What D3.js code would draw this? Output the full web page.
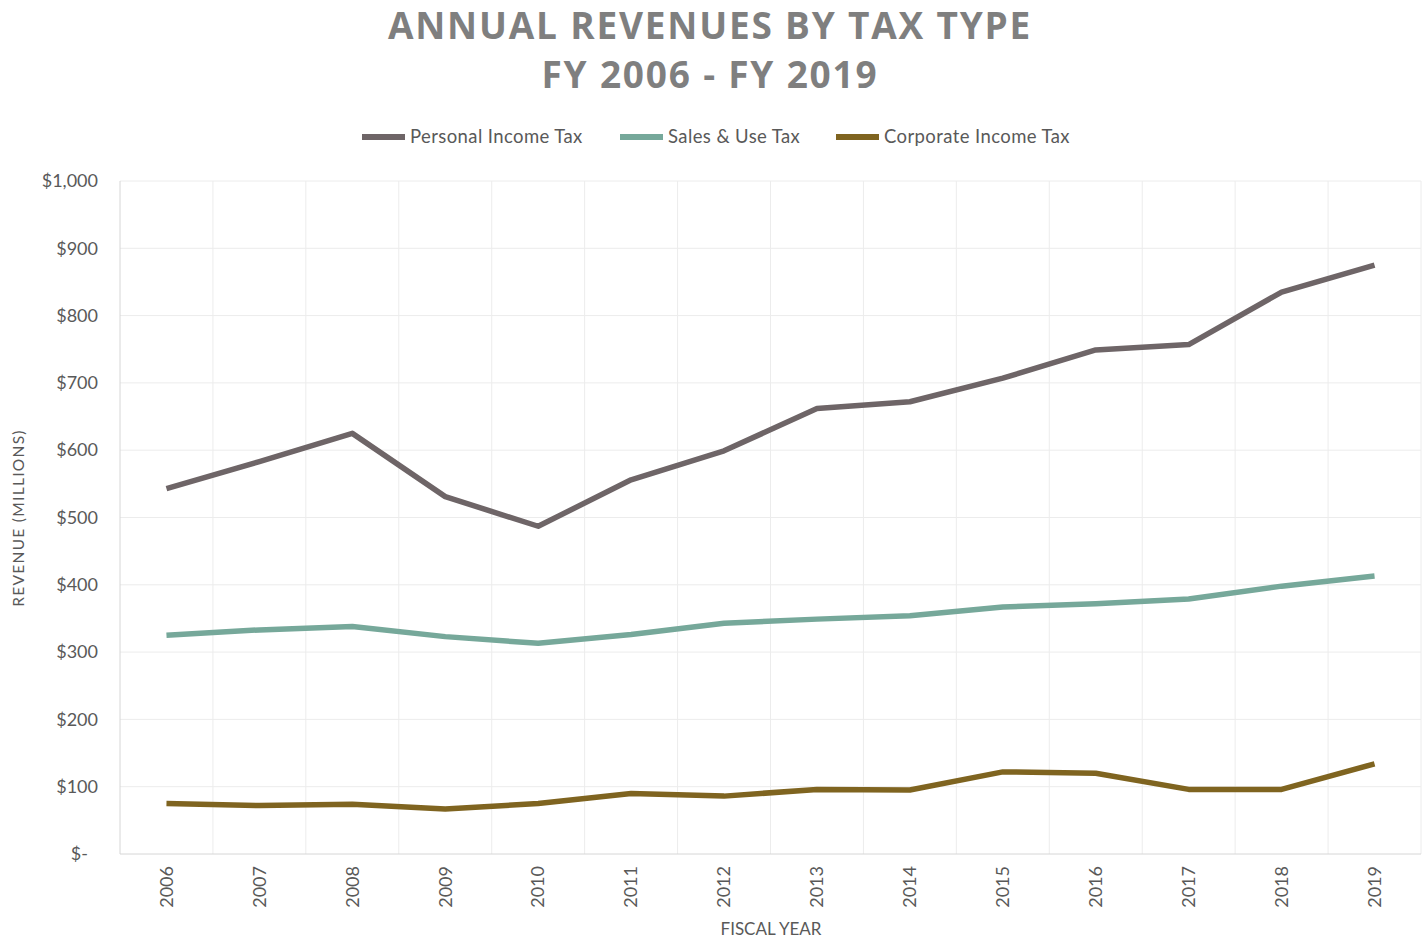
<!DOCTYPE html>
<html>
<head>
<meta charset="utf-8">
<script src="https://cdn.jsdelivr.net/npm/d3@7"></script>
<style>
  html, body { margin: 0; padding: 0; background: #ffffff; }
  svg { display: block; }
</style>
</head>
<body>
<svg id="chart" width="1427" height="938"></svg>
<script>
// Fiscal years on the category axis
const years = ["2006","2007","2008","2009","2010","2011","2012","2013","2014","2015","2016","2017","2018","2019"];

// Annual revenues, $ millions
const personalIncomeTax = [543, 583, 625, 531, 487, 556, 599, 662, 672, 707, 749, 757, 835, 875];
const salesUseTax       = [325, 333, 338, 323, 313, 326, 343, 349, 354, 367, 372, 379, 398, 413];
const corporateIncomeTax = [75, 72, 74, 67, 75, 90, 86, 96, 95, 122, 120, 96, 96, 134];

const seriesNames = ["Personal Income Tax", "Sales & Use Tax", "Corporate Income Tax"];
const seriesColors = ["#6e6567", "#76a89a", "#7f6420"];
const yTicks = [0, 100, 200, 300, 400, 500, 600, 700, 800, 900, 1000];

const series = [personalIncomeTax, salesUseTax, corporateIncomeTax].map((vals, i) => ({
  name: seriesNames[i],
  color: seriesColors[i],
  values: vals.map((v, j) => ({ year: years[j], value: v }))
}));

const svg = d3.select("#chart");
const font = "Lato, 'Open Sans', sans-serif";
const textColor = "#595959";

const plot = { left: 120, right: 1421, top: 181, bottom: 854 };

const x = d3.scaleBand().domain(years).range([plot.left, plot.right]).padding(0);
const y = d3.scaleLinear().domain([0, 1000]).range([plot.bottom, plot.top]);

// Title
const title = svg.append("g")
  .attr("font-family", "'Open Sans', sans-serif")
  .attr("font-weight", 700)
  .attr("font-size", 37)
  .attr("fill", "#7f7f7f")
  .attr("text-anchor", "middle")
  .attr("letter-spacing", 1.8);
title.append("text").attr("x", 710).attr("y", 39).text("ANNUAL REVENUES BY TAX TYPE");
title.append("text").attr("x", 710).attr("y", 88).text("FY 2006 - FY 2019");

// Horizontal gridlines
svg.append("g")
  .selectAll("line")
  .data(yTicks.filter(t => t > 0))
  .join("line")
  .attr("x1", plot.left).attr("x2", plot.right)
  .attr("y1", d => y(d)).attr("y2", d => y(d))
  .attr("stroke", "#ececec").attr("stroke-width", 1);

// Vertical gridlines at category boundaries
const bounds = years.map(yr => x(yr)).slice(1).concat([plot.right]);
svg.append("g")
  .selectAll("line")
  .data(bounds)
  .join("line")
  .attr("x1", d => d).attr("x2", d => d)
  .attr("y1", plot.top).attr("y2", plot.bottom)
  .attr("stroke", "#ececec").attr("stroke-width", 1);

// Axis lines
svg.append("line")
  .attr("x1", plot.left).attr("x2", plot.left)
  .attr("y1", plot.top).attr("y2", plot.bottom)
  .attr("stroke", "#d6d6d6");
svg.append("line")
  .attr("x1", plot.left).attr("x2", plot.right)
  .attr("y1", plot.bottom).attr("y2", plot.bottom)
  .attr("stroke", "#d6d6d6");

// Y axis
const yAxis = d3.axisLeft(y)
  .tickValues(yTicks)
  .tickSize(0)
  .tickPadding(22)
  .tickFormat(d => d === 0 ? "$-" : "$" + d3.format(",")(d));
const gy = svg.append("g").attr("transform", `translate(${plot.left},0)`).call(yAxis);
gy.select(".domain").remove();
gy.selectAll("text")
  .attr("font-family", font).attr("font-size", 18).attr("fill", textColor)
  .attr("dx", d => d === 0 ? -10 : 0);

// X axis
const xAxis = d3.axisBottom(x).tickSize(0).tickPadding(0);
const gx = svg.append("g").attr("transform", `translate(0,${plot.bottom})`).call(xAxis);
gx.select(".domain").remove();
gx.selectAll("text")
  .attr("font-family", font).attr("font-size", 18).attr("fill", textColor)
  .attr("transform", "rotate(-90)")
  .attr("text-anchor", "end")
  .attr("x", -12)
  .attr("y", 0)
  .attr("dy", "0.35em");

// Axis titles
svg.append("text")
  .attr("transform", `translate(24,518) rotate(-90)`)
  .attr("text-anchor", "middle")
  .attr("font-family", font).attr("font-size", 15.5).attr("fill", textColor)
  .attr("letter-spacing", 1.3)
  .text("REVENUE  (MILLIONS)");
svg.append("text")
  .attr("x", 771).attr("y", 935)
  .attr("text-anchor", "middle")
  .attr("font-family", font).attr("font-size", 17).attr("fill", textColor)
  .text("FISCAL YEAR");

// Lines
const line = d3.line()
  .x(d => x(d.year) + x.bandwidth() / 2)
  .y(d => y(d.value));
svg.append("g")
  .selectAll("path")
  .data(series)
  .join("path")
  .attr("d", d => line(d.values))
  .attr("fill", "none")
  .attr("stroke", d => d.color)
  .attr("stroke-width", 5.5)
  .attr("stroke-linejoin", "round");

// Legend
const legendX = [362, 620, 836];
const legend = svg.append("g")
  .selectAll("g")
  .data(series)
  .join("g")
  .attr("transform", (d, i) => `translate(${legendX[i]},137)`);
legend.append("line")
  .attr("x1", 0).attr("x2", 43).attr("y1", 0).attr("y2", 0)
  .attr("stroke", d => d.color).attr("stroke-width", 6);
legend.append("text")
  .attr("x", 48).attr("y", 0).attr("dy", "0.35em")
  .attr("font-family", font).attr("font-size", 18.5).attr("fill", textColor)
  .attr("letter-spacing", 0.4)
  .text(d => d.name);
</script>
</body>
</html>
